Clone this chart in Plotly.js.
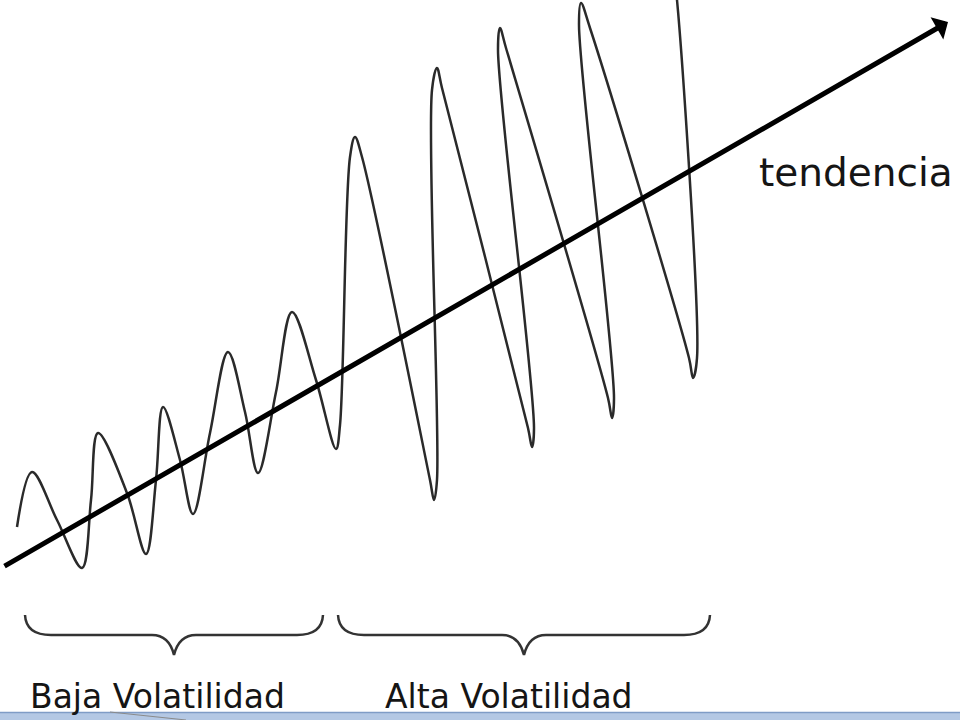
<!DOCTYPE html>
<html>
<head>
<meta charset="utf-8">
<script src="https://cdn.plot.ly/plotly-3.0.1.min.js"></script>
<style>
  html, body { margin: 0; padding: 0; background: #ffffff; }
  #chart { width: 960px; height: 720px; }
</style>
</head>
<body>
<div id="chart"></div>
<script>
// Oscillating price path (pixel units)
const waveX = [17, 32, 57, 82, 91, 98, 127, 146, 156, 163, 180, 193, 210, 228, 245, 258,
  276, 292, 316, 336, 340, 350, 355, 362, 430, 434, 437, 432, 437, 442, 528, 532, 534,
  498, 500, 506, 608, 612, 614, 579, 581, 590, 689, 693, 697, 677, 675];
const waveY = [527, 472, 520, 568, 500, 433, 493, 554, 480, 407, 460, 514, 433, 352, 412, 473,
  392, 312, 380, 449, 425, 157, 137, 157, 480, 500, 480, 90, 68, 88, 428, 447, 428,
  50, 28, 48, 398, 418, 398, 25, 3, 28, 358, 378, 358, 0, -15];

// Trend arrow (start and tip)
const trendX = [3, 948];
const trendY = [567, 22];
const trendLabel = "tendencia";

// Braces and their labels
const braceStart = [25, 338];
const braceEnd = [323, 710];
const braceLabels = ["Baja Volatilidad", "Alta Volatilidad"];
const labelStart = [28, 383];

const braceTop = 615, braceFlat = 635, braceTip = 655;

function bracePath(x0, x1) {
  const mid = (x0 + x1) / 2;
  return `M ${x0},${braceTop} Q ${x0 + 1},${braceFlat} ${x0 + 26},${braceFlat}` +
    ` L ${mid - 22},${braceFlat} Q ${mid - 5},${braceFlat} ${mid},${braceTip}` +
    ` Q ${mid + 5},${braceFlat} ${mid + 22},${braceFlat}` +
    ` L ${x1 - 26},${braceFlat} Q ${x1 - 1},${braceFlat} ${x1},${braceTop}`;
}

const shapes = braceStart.map((s, i) => ({
  type: 'path', xref: 'x', yref: 'y', path: bracePath(s, braceEnd[i]),
  line: { color: '#333333', width: 2.5 }
}));
// bottom window strip
shapes.push({ type: 'rect', xref: 'paper', yref: 'y', x0: 0, x1: 1, y0: 712, y1: 721,
  fillcolor: '#b4c8e4', line: { width: 0 } });
shapes.push({ type: 'line', xref: 'paper', yref: 'y', x0: 0, x1: 1, y0: 712.5, y1: 712.5,
  line: { color: '#7f9cc6', width: 1.5 } });
shapes.push({ type: 'line', xref: 'x', yref: 'y', x0: 110, x1: 186, y0: 712, y1: 720,
  line: { color: '#8a8a8a', width: 1 } });

const annotations = [
  {
    x: trendX[1], y: trendY[1], ax: trendX[0], ay: trendY[0], axref: 'x', ayref: 'y',
    xref: 'x', yref: 'y', text: '', showarrow: true, arrowhead: 1, arrowsize: 0.85,
    arrowwidth: 5, arrowcolor: '#000000', standoff: 0
  },
  {
    x: 757, y: 172, xref: 'x', yref: 'y', text: trendLabel, showarrow: false,
    xanchor: 'left', yanchor: 'middle',
    font: { family: 'DejaVu Sans', size: 39, color: '#151515' }
  }
];
braceLabels.forEach((t, i) => annotations.push({
  x: labelStart[i], y: 696, xref: 'x', yref: 'y', text: t, showarrow: false,
  xanchor: 'left', yanchor: 'middle',
  font: { family: 'DejaVu Sans', size: 33, color: '#151515' }
}));

const traces = [{
  type: 'scatter', mode: 'lines', x: waveX, y: waveY,
  line: { color: '#2a2a2a', width: 2.5, shape: 'spline', smoothing: 1 },
  hoverinfo: 'skip'
}];

const layout = {
  width: 960, height: 720,
  margin: { l: 0, r: 0, t: 0, b: 0, pad: 0 },
  paper_bgcolor: '#ffffff', plot_bgcolor: '#ffffff',
  showlegend: false,
  xaxis: { range: [0, 960], visible: false, fixedrange: true },
  yaxis: { range: [720, 0], visible: false, fixedrange: true },
  shapes: shapes,
  annotations: annotations
};

Plotly.newPlot('chart', traces, layout, { displayModeBar: false, staticPlot: true });
</script>
</body>
</html>
